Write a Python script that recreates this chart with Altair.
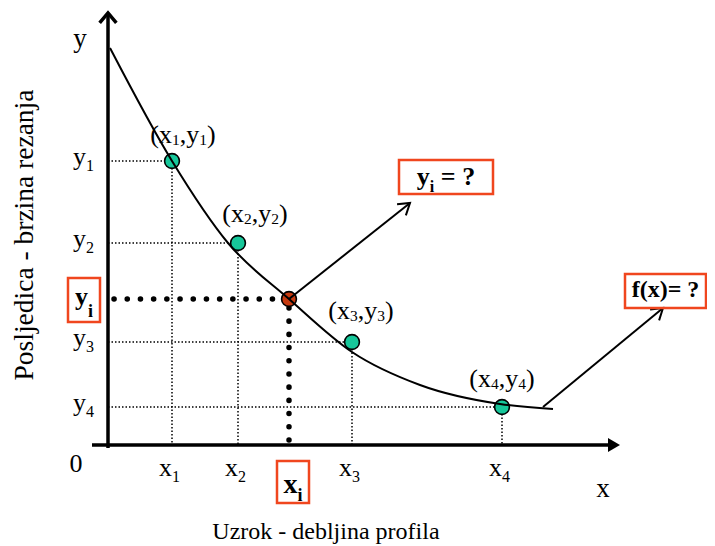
import math
import altair as alt
import pandas as pd

# ---------------- values ----------------
# diagram units: origin at the crossing of the axes, x to the right, y upward
POINT_IDS = ["1", "2", "3", "4"]
POINT_X = [64, 130, 244, 394]
POINT_Y = [284, 202, 103, 38]
XI_VAL = 181
YI_VAL = 146
CURVE_X = [2, 64, 120, 181, 244, 312, 392, 445]
CURVE_Y = [397, 284, 202, 146, 93, 60, 41, 36]
X_AXIS = [-16, 500]
Y_AXIS = [-3, 431]
ARROW_YI = [(181, 146), (302, 242)]
ARROW_FX = [(435, 38), (555, 137)]
BOX_YI_Q = [291, 385, 251, 285]
BOX_FX = [517, 598, 137, 171]
BOX_YI = [-40, -8, 123, 167]
BOX_XI = [169, 201, -58, -16]
X_TITLE = "Uzrok - debljina profila"
Y_TITLE = "Posljedica - brzina rezanja"

FONT = "Liberation Serif"
RED = "#f0461e"
TEAL = "#17c79a"
RED_PT = "#c63a10"

# ---------------- text layout helpers (Times metrics) ----------------
REG = {'(': 333, ')': 333, 'x': 500, 'y': 500, ',': 250, ' ': 250, '=': 564,
       '?': 444, 'f': 333, 'i': 278}
BOLD = {'(': 333, ')': 333, 'x': 500, 'y': 500, ' ': 250, '=': 570, '?': 500,
        'f': 333, 'i': 278}


def tw(text, size, bold):
    tbl = BOLD if bold else REG
    return sum(tbl.get(c, 500) for c in text) * size / 1000.0


text_rows = []


def put(runs, x0, base, anchor="left"):
    total = sum(tw(t, s, b) for t, s, b, d in runs)
    x = x0 if anchor == "left" else x0 - total / 2.0
    for t, s, b, d in runs:
        lead = len(t) - len(t.lstrip(" "))
        xs = x + tw(" " * lead, s, b)
        text_rows.append(dict(x=xs, y=base + d, text=t.strip(" "), size=s, bold=b))
        x += tw(t, s, b)


LBL_DX = [11, 17, 9, 0]
LBL_UP = [18, 21, 23, 20]
for k, pid in enumerate(POINT_IDS):
    put([("(x", 26, False, 0), (pid, 15.5, False, -2), (",y", 26, False, 0),
         (pid, 15.5, False, -2), (")", 26, False, 0)],
        POINT_X[k] + LBL_DX[k], POINT_Y[k] + LBL_UP[k], "center")
    put([("y", 26, False, 0), (pid, 16, False, -6)], -35, POINT_Y[k] - 4)
    put([("x", 26, False, 0), (pid, 16, False, -6)], POINT_X[k] - 13, -31)

put([("x", 28, True, 0), ("i", 18, True, -8)], (BOX_XI[0] + BOX_XI[1]) / 2, -48, "center")
put([("y", 26, True, 0), ("i", 18, True, -12)], (BOX_YI[0] + BOX_YI[1]) / 2, 140, "center")
put([("y", 26, True, 0), ("i", 16, True, -7), (" = ?", 26, True, 0)],
    (BOX_YI_Q[0] + BOX_YI_Q[1]) / 2, 260, "center")
put([("f(x)= ?", 24, True, 0)], (BOX_FX[0] + BOX_FX[1]) / 2, 148, "center")
put([("0", 26, False, 0)], -32, -27, "center")
put([("y", 27, False, 0)], -28, 398, "center")
put([("x", 27, False, 0)], 495, -52, "center")
put([(X_TITLE, 24, False, 0)], 232, -94, "center")

texts = pd.DataFrame(text_rows)
ytitle = pd.DataFrame([dict(x=-75, y=210, text=Y_TITLE)])

# ---------------- line geometry ----------------
line_rows = []


def seg(kind, name, pts):
    for i, (x, y) in enumerate(pts):
        line_rows.append(dict(kind=kind, seg=name, x=x, y=y, o=i))


def head(start, tip, L=13, ang=33):
    dx, dy = start[0] - tip[0], start[1] - tip[1]
    n = math.hypot(dx, dy)
    ux, uy = dx / n, dy / n
    out = []
    for a in (ang, -ang):
        r = math.radians(a)
        out.append((tip[0] + L * (ux * math.cos(r) - uy * math.sin(r)),
                    tip[1] + L * (ux * math.sin(r) + uy * math.cos(r))))
    return [out[0], tip, out[1]]


for k, pid in enumerate(POINT_IDS):
    seg("thin", "h" + pid, [(0, POINT_Y[k]), (POINT_X[k], POINT_Y[k])])
    seg("thin", "v" + pid, [(POINT_X[k], POINT_Y[k]), (POINT_X[k], 0)])
seg("heavy", "hi", [(6, YI_VAL), (XI_VAL, YI_VAL)])
seg("heavy", "vi", [(XI_VAL, 5), (XI_VAL, YI_VAL)])
seg("axis", "xa", [(X_AXIS[0], 0), (X_AXIS[1], 0)])
seg("axis", "ya", [(0, Y_AXIS[0]), (0, Y_AXIS[1])])
seg("axis", "yah", head((0, 0), (0, Y_AXIS[1] + 1), L=13, ang=40))
seg("arrow", "a1", ARROW_YI)
seg("arrow", "a1h", head(ARROW_YI[0], ARROW_YI[1]))
seg("arrow", "a2", ARROW_FX)
seg("arrow", "a2h", head(ARROW_FX[0], ARROW_FX[1]))
lines = pd.DataFrame(line_rows)

curve = pd.DataFrame({"x": CURVE_X, "y": CURVE_Y})
pts = pd.DataFrame({"x": POINT_X + [XI_VAL], "y": POINT_Y + [YI_VAL],
                    "c": [TEAL] * len(POINT_X) + [RED_PT]})
boxes = pd.DataFrame([dict(x=b[0], x2=b[1], y=b[2], y2=b[3])
                      for b in (BOX_YI_Q, BOX_FX, BOX_YI, BOX_XI)])
xtip = pd.DataFrame([dict(x=X_AXIS[1] + 6, y=0)])

# ---------------- chart ----------------
xs = alt.Scale(domain=[-100, 599], nice=False, zero=False)
ys = alt.Scale(domain=[-101, 437], nice=False, zero=False)
X = alt.X("x:Q", scale=xs, axis=None)
Y = alt.Y("y:Q", scale=ys, axis=None)


def line_layer(kind, **mk):
    return alt.Chart(lines[lines.kind == kind]).mark_line(**mk).encode(
        x=X, y=Y, detail="seg:N", order="o:Q")


thin = line_layer("thin", color="black", strokeWidth=1.5, strokeDash=[1.5, 2])
heavy = line_layer("heavy", color="black", strokeWidth=5.5, strokeDash=[0.1, 13.1],
                   strokeCap="round")
axes = line_layer("axis", color="black", strokeWidth=3.5)
arrows = line_layer("arrow", color="black", strokeWidth=2)

curve_l = alt.Chart(curve).mark_line(color="black", strokeWidth=2,
                                     interpolate="monotone").encode(x=X, y=Y)
circles = alt.Chart(pts).mark_circle(size=220, opacity=1, stroke="black",
                                     strokeWidth=1.6).encode(
    x=X, y=Y, color=alt.Color("c:N", scale=None))
tipmark = alt.Chart(xtip).mark_point(shape="M-0.857,-1L0.857,0L-0.857,1Z", size=196,
                                     filled=True, color="black", opacity=1).encode(x=X, y=Y)
box_l = alt.Chart(boxes).mark_rect(fill="transparent", stroke=RED, strokeWidth=2.5).encode(
    x=X, x2="x2:Q", y=Y, y2="y2:Q")

reg_t = alt.Chart(texts[~texts.bold]).mark_text(
    align="left", baseline="alphabetic", font=FONT, color="black").encode(
    x=X, y=Y, text="text:N", size=alt.Size("size:Q", scale=None))
bold_t = alt.Chart(texts[texts.bold]).mark_text(
    align="left", baseline="alphabetic", font=FONT, fontWeight="bold", color="black").encode(
    x=X, y=Y, text="text:N", size=alt.Size("size:Q", scale=None))
ytitle_t = alt.Chart(ytitle).mark_text(
    align="center", baseline="alphabetic", font=FONT, fontSize=27.5, angle=270,
    color="black").encode(x=X, y=Y, text="text:N")

chart = alt.layer(thin, heavy, circles, curve_l, arrows, axes, tipmark, box_l,
                  reg_t, bold_t, ytitle_t).properties(
    width=699, height=538, padding=0, autosize=alt.AutoSizeParams(type="none"),
    background="white"
).configure_view(stroke=None)

chart.save("out.html", embed_options={"renderer": "svg", "actions": False})
